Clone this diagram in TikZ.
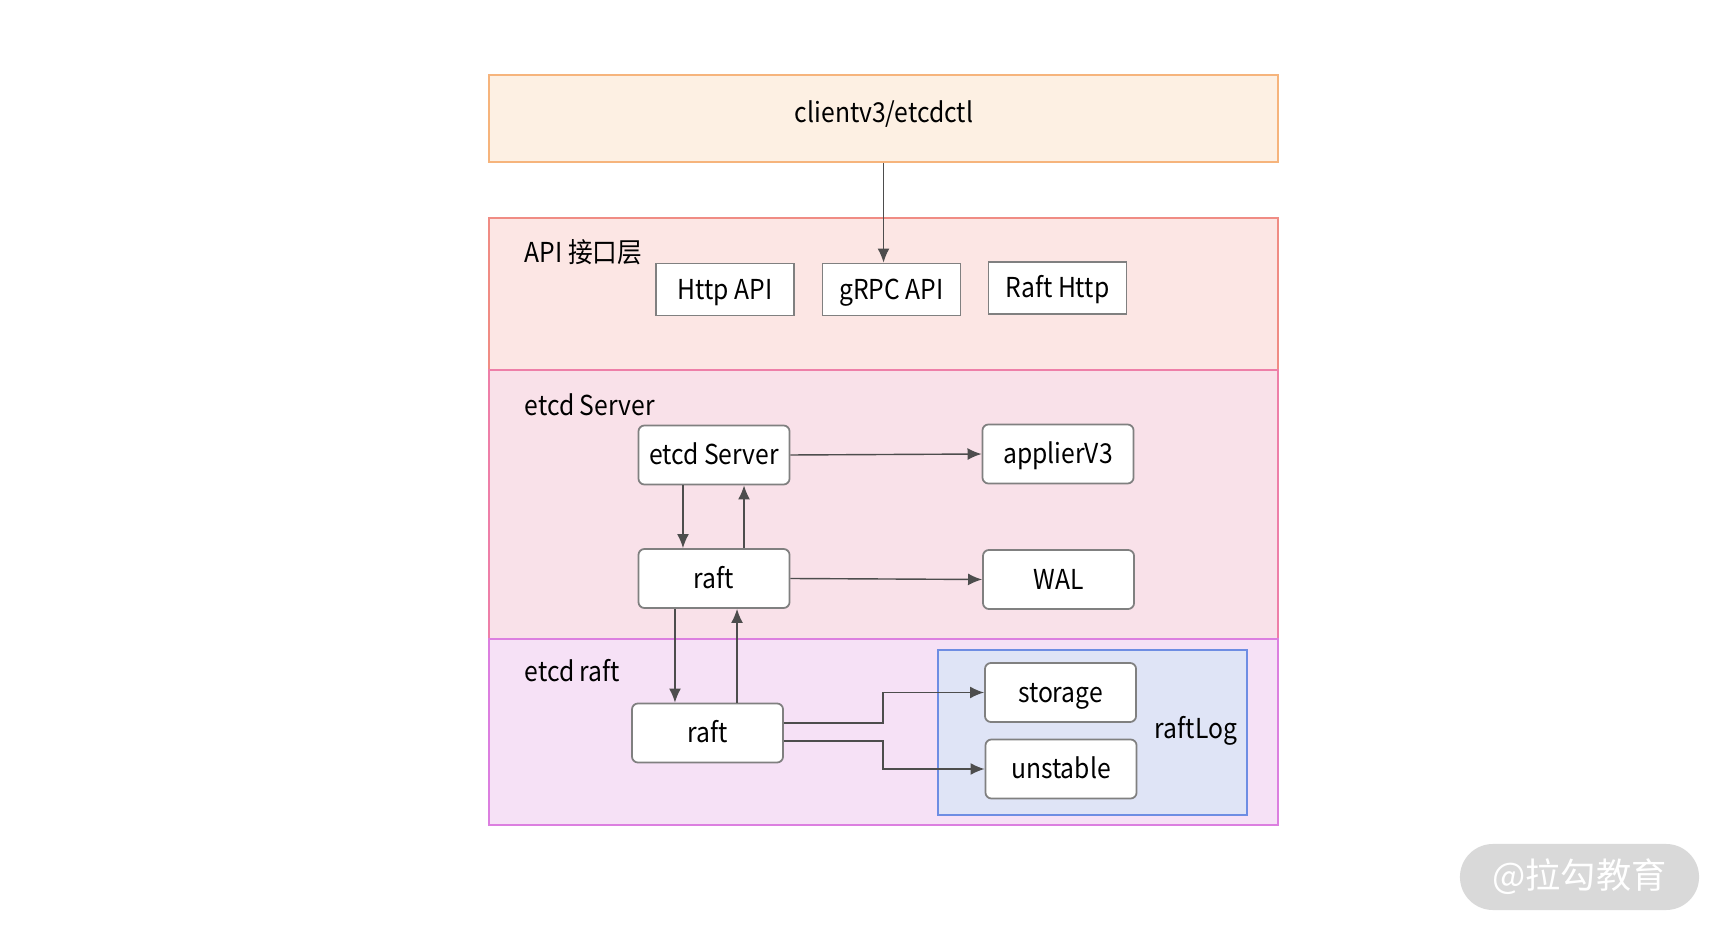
\documentclass[tikz,border=0pt]{standalone}
\usepackage{fontspec}
\setmainfont[FakeStretch=0.9]{Noto Sans CJK SC}
\newfontfamily\markfont{Noto Sans CJK SC}
\usetikzlibrary{arrows.meta,positioning}
\begin{document}
\begin{tikzpicture}[x=0.01cm,y=-0.01cm,
  font=\fontsize{7.8}{9}\selectfont,
  box/.style={draw=boxline,fill=white,line width=0.5pt,rounded corners=0.06cm,
    minimum width=1.51cm,minimum height=0.59cm,inner sep=0pt,text height=0.8em,text depth=0.25em},
  flatbox/.style={box,rounded corners=0pt,minimum width=1.38cm,minimum height=0.52cm},
  layer/.style={line width=0.6pt},
  tag/.style={anchor=west,inner sep=0pt},
  link/.style={draw=linkc,line width=0.4pt,-{Latex[length=4pt,width=3.4pt]}}]
  \definecolor{clientfill}{HTML}{FDF0E3}
  \definecolor{clientline}{HTML}{F6B47C}
  \definecolor{apifill}{HTML}{FCE6E4}
  \definecolor{apiline}{HTML}{F08C84}
  \definecolor{srvfill}{HTML}{F9E1E9}
  \definecolor{srvline}{HTML}{EE7FA8}
  \definecolor{raftfill}{HTML}{F6E1F6}
  \definecolor{raftline}{HTML}{DC7FE0}
  \definecolor{logfill}{HTML}{DFE4F6}
  \definecolor{logline}{HTML}{6E8DE3}
  \definecolor{boxline}{HTML}{808080}
  \definecolor{linkc}{HTML}{4D4D4D}
  \useasboundingbox (0,0) rectangle (1724,934);
  % layers
  \node [layer,draw=clientline,fill=clientfill,minimum width=7.89cm,minimum height=0.87cm] (client) at (883.5,118.5) {};
  \node (clienttxt) at (884,114) {clientv3/etcdctl};
  \filldraw [layer,draw=apiline,fill=apifill] (489,218) rectangle (1278,370);
  \filldraw [layer,draw=srvline,fill=srvfill] (489,370) rectangle (1278,639);
  \filldraw [layer,draw=raftline,fill=raftfill] (489,639) rectangle (1278,825);
  \filldraw [line width=0.5pt,draw=logline,fill=logfill] (938,650) rectangle (1247,815);
  \node [tag] (apilbl) at (524,252) {API 接口层};
  \node [tag] (srvlbl) at (524,405) {etcd Server};
  \node [tag] (raftlbl) at (524,671) {etcd raft};
  \node (loglbl) at (1196,731) {raftLog};
  % API boxes
  \node [flatbox] (http) at (725,289.5) {Http API};
  \node [flatbox] (grpc) at (891.5,289.5) {gRPC API};
  \node [flatbox] (rafthttp) at (1057.5,288) {Raft Http};
  % server boxes
  \node [box] (server) at (714,455) {etcd Server};
  \node [box] (applier) at (1058,454) {applierV3};
  \node [box] (sraft) at (714,578.5) {raft};
  \node [box] (wal) at (1058.5,579.5) {WAL};
  % raft boxes
  \node [box] (rraft) at (707.5,733) {raft};
  \node [box] (storage) at (1060.5,692.5) {storage};
  \node [box] (unstable) at (1061,769) {unstable};
  % links
  \draw [link] (client.south) -- (client.south |- grpc.north);
  \draw [link] (server.east) -- (applier.west);
  \draw [link] (sraft.east) -- (wal.west);
  \draw [link] ([xshift=-0.31cm]server.south) -- ([xshift=-0.31cm]sraft.north);
  \draw [link] ([xshift=0.30cm]sraft.north) -- ([xshift=0.30cm]server.south);
  \draw [link] ([xshift=-0.39cm]sraft.south) -- ([xshift=-0.39cm]sraft.south |- rraft.north);
  \draw [link] ([xshift=0.295cm]rraft.north) -- ([xshift=0.295cm]rraft.north |- sraft.south);
  \draw [link] ([yshift=0.1cm]rraft.east) -- ++(99,0) |- (storage.west);
  \draw [link] ([yshift=-0.08cm]rraft.east) -- ++(99,0) |- (unstable.west);
  % watermark
  \node [fill=black!15,rounded corners=0.33cm,minimum width=2.39cm,minimum height=0.66cm,
    text=white,font=\markfont\fontsize{10}{12}\selectfont] (mark) at (1579.5,877) {@拉勾教育};
\end{tikzpicture}
\end{document}
